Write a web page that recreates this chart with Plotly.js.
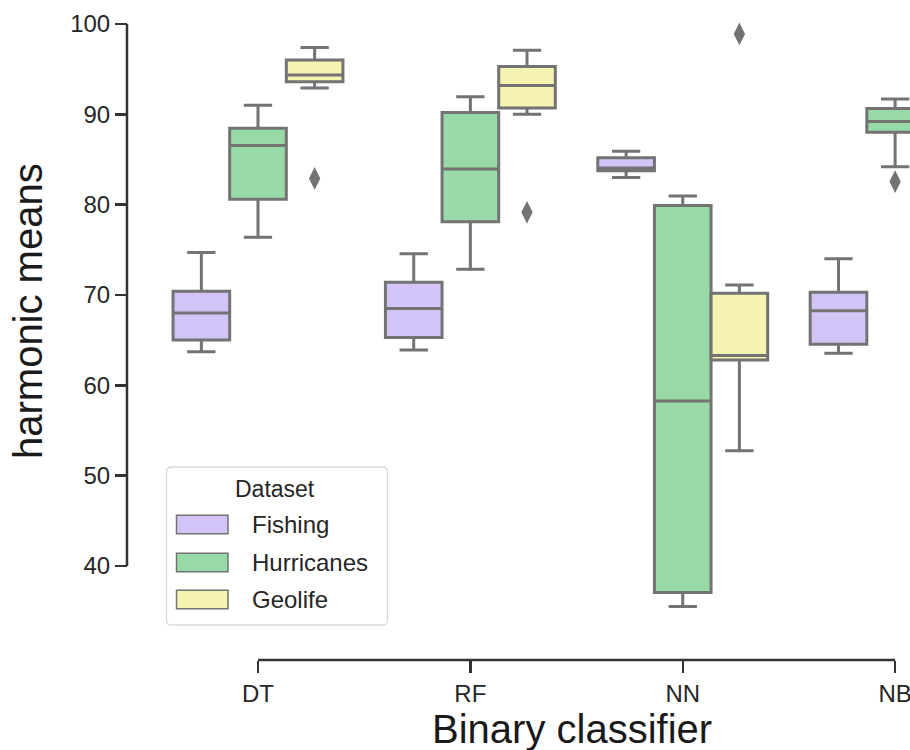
<!DOCTYPE html>
<html><head><meta charset="utf-8">
<script src="https://cdn.plot.ly/plotly-3.0.1.min.js"></script>
<style>html,body{margin:0;padding:0;background:#fff;overflow:hidden}</style>
</head><body><div id="chart" style="width:910px;height:750px"></div>
<script>
// ---- data ----
const categories = ['DT', 'RF', 'NN', 'NB'];
const datasets = ['Fishing', 'Hurricanes', 'Geolife'];

const fishingLower  = [63.7, 63.9, 83.0, 63.55];
const fishingQ1     = [65.0, 65.3, 83.75, 64.55];
const fishingMedian = [68.0, 68.5, 84.05, 68.25];
const fishingQ3     = [70.4, 71.4, 85.2, 70.3];
const fishingUpper  = [74.7, 74.55, 85.9, 74.0];
const fishingOutliers = [[null], [null], [null], [null]];

const hurricanesLower  = [76.4, 72.85, 35.5, 84.2];
const hurricanesQ1     = [80.6, 78.1, 37.05, 88.0];
const hurricanesMedian = [86.55, 83.95, 58.25, 89.2];
const hurricanesQ3     = [88.45, 90.2, 79.9, 90.65];
const hurricanesUpper  = [91.0, 91.95, 80.95, 91.7];
const hurricanesOutliers = [[null], [null], [null], [82.55]];

const geolifeLower  = [92.9, 90.0, 52.75];
const geolifeQ1     = [93.6, 90.7, 62.8];
const geolifeMedian = [94.35, 93.2, 63.3];
const geolifeQ3     = [96.0, 95.3, 70.2];
const geolifeUpper  = [97.4, 97.1, 71.1];
const geolifeOutliers = [[82.9], [79.15], [98.9]];

const yTicks = [40, 50, 60, 70, 80, 90, 100];

// ---- styles ----
const colors = ['rgb(211,196,247)', 'rgb(152,218,167)', 'rgb(244,243,175)'];
const LINE = 'rgb(115,115,115)';
const SPINE = '#333333';
const FONT = 'Liberation Sans, Arial, Helvetica, sans-serif';

function boxTrace(name, color, lo, q1, med, q3, hi, out) {
  return {
    type: 'box', name: name,
    x: categories.slice(0, q1.length),
    q1: q1, median: med, q3: q3, lowerfence: lo, upperfence: hi,
    y: out,
    boxpoints: 'outliers', pointpos: 0, jitter: 0,
    fillcolor: color,
    line: {color: LINE, width: 3},
    marker: {symbol: 'diamond-tall', size: 13, color: LINE, line: {color: LINE, width: 2}},
    whiskerwidth: 0.5,
    showlegend: false,
    hoverinfo: 'skip'
  };
}

const traces = [
  boxTrace(datasets[0], colors[0], fishingLower, fishingQ1, fishingMedian, fishingQ3, fishingUpper, fishingOutliers),
  boxTrace(datasets[1], colors[1], hurricanesLower, hurricanesQ1, hurricanesMedian, hurricanesQ3, hurricanesUpper, hurricanesOutliers),
  boxTrace(datasets[2], colors[2], geolifeLower, geolifeQ1, geolifeMedian, geolifeQ3, geolifeUpper, geolifeOutliers)
];

// ---- layout geometry (pixels -> paper) ----
const W = 910, H = 750, ML = 127, MT = 5, MB = 90, MR = 0;
const PW = W - ML - MR, PH = H - MT - MB;
const px2x = p => (p - ML) / PW;
const px2y = p => (H - MB - p) / PH;

function roundRect(x0, y0, x1, y1, r) {
  const P = (x, y) => px2x(x).toFixed(5) + ',' + px2y(y).toFixed(5);
  return 'M' + P(x0 + r, y0) + ' L' + P(x1 - r, y0) + ' Q' + P(x1, y0) + ' ' + P(x1, y0 + r) +
    ' L' + P(x1, y1 - r) + ' Q' + P(x1, y1) + ' ' + P(x1 - r, y1) +
    ' L' + P(x0 + r, y1) + ' Q' + P(x0, y1) + ' ' + P(x0, y1 - r) +
    ' L' + P(x0, y0 + r) + ' Q' + P(x0, y0) + ' ' + P(x0 + r, y0) + ' Z';
}

const shapes = [
  // trimmed, offset spines
  {type: 'line', xref: 'paper', yref: 'y', x0: 0, x1: 0, y0: yTicks[0], y1: yTicks[yTicks.length - 1],
   line: {color: SPINE, width: 2.5}, layer: 'above'},
  {type: 'line', xref: 'x', yref: 'paper', x0: categories[0], x1: categories[categories.length - 1], y0: 0, y1: 0,
   line: {color: SPINE, width: 2.5}, layer: 'above'},
  // legend frame
  {type: 'path', xref: 'paper', yref: 'paper', path: roundRect(166.5, 467, 387.5, 625, 5),
   fillcolor: 'rgba(255,255,255,0.85)', line: {color: '#d9d9d9', width: 1.3}, layer: 'above'}
];
const legendRows = [524.5, 562.5, 599.5];
const annotations = [];
datasets.forEach((d, i) => {
  const cy = legendRows[i];
  shapes.push({type: 'rect', xref: 'paper', yref: 'paper',
    x0: px2x(176.5), x1: px2x(228), y0: px2y(cy - 9.2), y1: px2y(cy + 9.2),
    fillcolor: colors[i], line: {color: LINE, width: 1.5}, layer: 'above'});
  annotations.push({xref: 'paper', yref: 'paper', x: px2x(250), y: px2y(cy), xanchor: 'left', yanchor: 'middle',
    text: d, showarrow: false, font: {family: FONT, size: 24, color: '#262626'}});
});
annotations.push({xref: 'paper', yref: 'paper', x: px2x(275), y: px2y(489), xanchor: 'center', yanchor: 'middle',
  text: 'Dataset', showarrow: false, font: {family: FONT, size: 23, color: '#262626'}});
// axis titles
annotations.push({xref: 'paper', yref: 'paper', x: px2x(572), y: px2y(729), xanchor: 'center', yanchor: 'middle',
  text: 'Binary classifier', showarrow: false, font: {family: FONT, size: 40, color: '#1a1a1a'}});
annotations.push({xref: 'paper', yref: 'paper', x: px2x(28), y: px2y(311), xanchor: 'center', yanchor: 'middle',
  text: 'harmonic means', textangle: -90, showarrow: false, font: {family: FONT, size: 40, color: '#1a1a1a'}});

const layout = {
  width: W, height: H,
  margin: {l: ML, r: MR, t: MT, b: MB, pad: 0},
  paper_bgcolor: '#ffffff', plot_bgcolor: '#ffffff',
  font: {family: FONT, color: '#333333'},
  boxmode: 'group', boxgap: 0.2, boxgroupgap: 0,
  showlegend: false,
  xaxis: {
    type: 'category', categoryorder: 'array', categoryarray: categories,
    domain: [px2x(151.8), 1], range: [-0.5, 3.07],
    anchor: 'free', position: 0,
    showline: false, showgrid: false, zeroline: false,
    ticks: 'outside', ticklen: 12, tickwidth: 2.5, tickcolor: SPINE,
    tickfont: {family: FONT, size: 24, color: '#262626'},
    automargin: false, fixedrange: true
  },
  yaxis: {
    domain: [px2y(635), 1], range: [32.35, 102.1],
    anchor: 'free', position: 0,
    tickvals: yTicks,
    showline: false, showgrid: false, zeroline: false,
    ticks: 'outside', ticklen: 12, tickwidth: 2.5, tickcolor: SPINE,
    tickfont: {family: FONT, size: 24, color: '#262626'},
    automargin: false, fixedrange: true
  },
  shapes: shapes,
  annotations: annotations
};

Plotly.newPlot('chart', traces, layout, {displayModeBar: false, staticPlot: true});
</script>
</body></html>
